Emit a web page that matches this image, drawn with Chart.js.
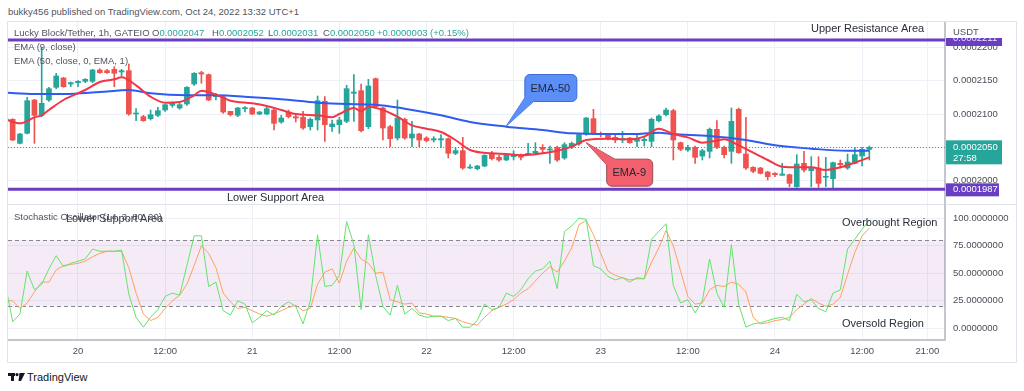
<!DOCTYPE html>
<html>
<head>
<meta charset="utf-8">
<script src="https://cdn.jsdelivr.net/npm/chart.js@4.4.0/dist/chart.umd.min.js"></script>
<style>
  body { margin: 0; background: #fff; width: 1024px; height: 391px; overflow: hidden; position: relative;
         font-family: "Liberation Sans", Arial, sans-serif; }
  canvas { position: absolute; }
  .t { position: absolute; white-space: nowrap; line-height: 12px; }
  .grey { color: #50535e; font-size: 9.5px; }
  .teal { color: #26a69a; font-size: 9.5px; }
  .note { color: #2a2e39; font-size: 11px; }
</style>
</head>
<body>
<div id="frame" style="position:absolute;left:7px;top:21px;width:1008px;height:340px;border:1px solid #e0e3eb;"></div>
<canvas id="main" width="1008" height="182" style="left:8px;top:22px;"></canvas>
<div style="position:absolute;left:8px;top:204px;width:1008px;height:1px;background:#e0e3eb;"></div>
<canvas id="stoch" width="1008" height="158" style="left:8px;top:204px;"></canvas>

<div class="t" style="left:8px;top:6px;font-size:9.5px;color:#50535e;">bukky456 published on TradingView.com, Oct 24, 2022 13:32 UTC+1</div>

<div class="t grey" style="left:14px;top:27px;">Lucky Block/Tether, 1h, GATEIO</div>
<div class="t teal" style="left:152px;top:27px;"><span class="grey">O</span>0.0002047</div>
<div class="t teal" style="left:212px;top:27px;"><span class="grey">H</span>0.0002052</div>
<div class="t teal" style="left:268px;top:27px;"><span class="grey">L</span>0.0002031</div>
<div class="t teal" style="left:323px;top:27px;"><span class="grey">C</span>0.0002050</div>
<div class="t teal" style="left:377px;top:27px;">+0.0000003 (+0.15%)</div>
<div class="t grey" style="left:14px;top:41px;">EMA (9, close)</div>
<div class="t grey" style="left:14px;top:55px;">EMA (50, close, 0, EMA, 1)</div>
<div class="t grey" style="left:953px;top:26px;">USDT</div>

<div class="t note" style="left:811px;top:22px;">Upper Resistance Area</div>
<div class="t note" style="left:227px;top:191px;">Lower Support Area</div>
<div class="t grey" style="left:14px;top:211px;">Stochastic Oscillator (14, 3, 80, 20)</div>
<div class="t note" style="left:66px;top:212px;color:#3a3d46;">Lower Support Area</div>
<div class="t note" style="left:842px;top:216px;">Overbought Region</div>
<div class="t note" style="left:842px;top:317px;">Oversold Region</div>

<svg style="position:absolute;left:8px;top:373px;" width="17" height="8" viewBox="0 0 17 8">
  <rect x="0" y="0" width="7" height="3" fill="#131722"/>
  <rect x="3" y="0" width="3" height="8" fill="#131722"/>
  <circle cx="9" cy="1.6" r="1.6" fill="#131722"/>
  <polygon points="11.5,0 17,0 13,8 10.5,8" fill="#131722"/>
</svg>
<div class="t" style="left:27px;top:371px;font-size:11px;color:#131722;">TradingView</div>

<script>
// prices in units of 0.0000001 USDT, hourly candles; hour 0 = Oct 20 00:00
const FIRST_HOUR = -10;
const opens  = [2089, 2092, 2056, 2071, 2121, 2098, 2121, 2140, 2154, 2145, 2147, 2149, 2149, 2166, 2165, 2167, 2163, 2165, 2100, 2096,
                2093, 2098, 2106, 2113, 2109, 2115, 2145, 2162, 2159, 2126, 2126, 2104, 2098, 2108, 2109, 2100, 2100, 2106, 2088, 2103,
                2096, 2095, 2081, 2091, 2119, 2081, 2084, 2089, 2131, 2135, 2081, 2153, 2109, 2081, 2064, 2092, 2064, 2070, 2064, 2061,
                2061, 2063, 2041, 2045, 2019, 2018, 2022, 2040, 2035, 2031, 2036, 2038, 2039, 2042, 2050, 2046, 2050, 2034, 2050, 2055,
                2070, 2093, 2071, 2069, 2065, 2061, 2064, 2059, 2060, 2059, 2090, 2099, 2105, 2057, 2046, 2050, 2037, 2044, 2077, 2050,
                2044, 2107, 2040, 2020, 2019, 2013, 2011, 2008, 2009, 1991, 2026, 2015, 2019, 2005, 2003, 2026, 2019, 2026, 2037, 2047];
const highs  = [2096, 2093, 2071, 2125, 2122, 2200, 2140, 2161, 2155, 2148, 2150, 2153, 2167, 2168, 2167, 2171, 2167, 2175, 2108, 2098,
                2106, 2110, 2115, 2118, 2116, 2141, 2162, 2164, 2160, 2131, 2128, 2104, 2110, 2111, 2110, 2104, 2110, 2107, 2098, 2106,
                2100, 2104, 2094, 2127, 2126, 2091, 2095, 2143, 2159, 2145, 2152, 2154, 2110, 2083, 2121, 2094, 2089, 2071, 2066, 2066,
                2069, 2064, 2049, 2065, 2024, 2023, 2039, 2044, 2038, 2040, 2045, 2040, 2056, 2057, 2054, 2052, 2052, 2057, 2058, 2070,
                2095, 2107, 2073, 2070, 2069, 2074, 2065, 2069, 2066, 2094, 2099, 2109, 2107, 2058, 2053, 2052, 2047, 2079, 2090, 2052,
                2109, 2109, 2095, 2021, 2020, 2014, 2012, 2026, 2010, 2039, 2044, 2036, 2036, 2035, 2028, 2031, 2040, 2050, 2050, 2052];
const lows   = [2088, 2060, 2055, 2070, 2056, 2096, 2119, 2138, 2140, 2141, 2141, 2147, 2147, 2161, 2161, 2141, 2157, 2098, 2090, 2089,
                2091, 2096, 2104, 2110, 2107, 2113, 2143, 2146, 2120, 2121, 2101, 2097, 2096, 2103, 2099, 2099, 2099, 2076, 2086, 2094,
                2088, 2077, 2076, 2076, 2059, 2074, 2071, 2087, 2089, 2073, 2078, 2109, 2061, 2051, 2061, 2062, 2051, 2051, 2058, 2058,
                2050, 2034, 2039, 2017, 2018, 2016, 2021, 2031, 2029, 2030, 2031, 2031, 2039, 2039, 2041, 2026, 2029, 2032, 2048, 2053,
                2068, 2069, 2066, 2061, 2057, 2057, 2056, 2051, 2052, 2051, 2088, 2097, 2031, 2045, 2044, 2026, 2031, 2034, 2048, 2034,
                2026, 2041, 2017, 2012, 2010, 2001, 2006, 2008, 1991, 1990, 2013, 1991, 1990, 1991, 1989, 2019, 2017, 2025, 2022, 2031];
const closes = [2094, 2061, 2070, 2120, 2098, 2116, 2138, 2157, 2141, 2147, 2149, 2152, 2166, 2162, 2162, 2161, 2165, 2100, 2101, 2090,
                2099, 2105, 2114, 2116, 2114, 2140, 2161, 2160, 2121, 2127, 2103, 2099, 2109, 2109, 2100, 2103, 2108, 2086, 2094, 2096,
                2094, 2079, 2092, 2120, 2084, 2085, 2091, 2138, 2133, 2075, 2142, 2111, 2079, 2063, 2094, 2064, 2070, 2061, 2060, 2063,
                2063, 2041, 2045, 2019, 2020, 2022, 2038, 2033, 2031, 2039, 2039, 2035, 2041, 2044, 2047, 2047, 2031, 2054, 2056, 2069,
                2094, 2071, 2069, 2064, 2061, 2063, 2057, 2062, 2062, 2092, 2097, 2106, 2061, 2047, 2050, 2035, 2045, 2077, 2050, 2039,
                2089, 2042, 2019, 2014, 2011, 2006, 2009, 2010, 1996, 2025, 2016, 2019, 1996, 2006, 2027, 2024, 2028, 2039, 2047, 2050];

const ema9Hours  = [-10, -8, -6, -5, -4, -2, 1, 3, 5, 6, 8, 10, 12, 14, 16, 17, 19, 21, 24, 26, 28, 30, 33, 35, 36, 38, 39, 40, 42,
                    44, 46, 48, 50, 52, 54, 57, 59, 61, 64, 66, 68, 70, 73, 76, 78, 80, 82, 84, 86, 88, 89, 91, 93, 95, 97, 99,
                    101, 103, 105, 107, 109];
const ema9Values = [2092, 2086, 2095, 2098, 2106, 2121, 2136, 2148, 2152, 2155, 2143, 2126, 2117, 2118, 2128, 2135, 2129, 2120, 2116,
                    2112, 2106, 2100, 2098, 2095, 2100, 2109, 2104, 2111, 2106, 2096, 2083, 2078, 2073, 2061, 2046, 2041, 2040, 2038,
                    2041, 2045, 2051, 2061, 2063, 2062, 2066, 2078, 2070, 2065, 2057, 2060, 2062, 2053, 2042, 2031, 2021, 2020, 2020,
                    2016, 2020, 2027, 2035];
const ema50Hours  = [-10, -6, -2, 3, 7, 10, 15, 19, 24, 28, 33, 37, 41, 45, 50, 54, 59, 64, 68, 73, 77, 80, 82, 87, 92, 96, 101, 106, 109];
const ema50Values = [2132, 2130, 2130, 2133, 2136, 2131, 2128, 2128, 2125, 2122, 2117, 2115, 2114, 2108, 2098, 2088, 2081, 2076, 2071,
                     2070, 2070, 2072, 2070, 2067, 2061, 2053, 2048, 2045, 2045];

const stochK = [40, 6, 13, 52, 35, 40, 54, 66, 56, 59, 61, 63, 72, 70, 70, 70, 71, 31, 10, 1,
                10, 17, 29, 32, 30, 57, 84, 84, 38, 42, 16, 12, 25, 22, 5, 10, 16, 12, 20, 24,
                20, 4, 25, 85, 38, 39, 48, 97, 76, 17, 85, 48, 20, 12, 39, 13, 18, 12, 10, 11,
                11, 7, 9, 1, 1, 7, 22, 17, 19, 32, 29, 35, 45, 52, 54, 61, 36, 88, 93, 100,
                99, 57, 54, 47, 44, 46, 42, 46, 45, 81, 88, 95, 39, 23, 26, 14, 25, 63, 32, 19,
                76, 22, 1, 4, 5, 7, 9, 10, 7, 31, 24, 26, 18, 15, 32, 35, 72, 81, 90, 98];
const stochD = [25, 25, 18, 23, 33, 42, 42, 53, 57, 58, 59, 61, 65, 68, 70, 70, 70, 55, 32, 13,
                7, 10, 18, 25, 30, 40, 57, 75, 68, 55, 32, 24, 18, 19, 16, 13, 11, 13, 16, 19,
                21, 16, 18, 40, 51, 54, 41, 61, 73, 63, 59, 50, 51, 26, 24, 22, 23, 14, 13, 11,
                11, 10, 9, 6, 4, 3, 10, 16, 19, 22, 26, 32, 36, 43, 50, 56, 51, 61, 73, 94,
                98, 85, 68, 52, 48, 46, 44, 45, 45, 60, 73, 89, 75, 52, 29, 22, 23, 35, 39, 38,
                42, 40, 33, 10, 4, 5, 7, 8, 10, 17, 22, 27, 23, 20, 22, 28, 49, 69, 84, 91];

const tickHours  = [0, 12, 24, 36, 48, 60, 72, 84, 96, 108, 117];
const tickLabels = ['20', '12:00', '21', '12:00', '22', '12:00', '23', '12:00', '24', '12:00', '21:00'];
const priceTicks = [2000, 2050, 2100, 2150, 2200];
const stochTicks = [0, 25, 50, 75, 100];
const lastPrice = 2050;
const resistance = 2211;
const support = 1987;

const hours = opens.map((_, i) => FIRST_HOUR + i);
const UP = '#26a69a', DOWN = '#ef5350', PURPLE = '#6a3ec2', GRID = '#edf0f6';
const FONT = '"Liberation Sans", Arial, sans-serif';
const candleColors = opens.map((o, i) => closes[i] >= o ? UP : DOWN);
const X_MIN = -9.64, X_MAX = 119.42;

function xScale(showLabels) {
  return {
    type: 'linear', min: X_MIN, max: X_MAX, offset: false,
    afterBuildTicks: s => { s.ticks = tickHours.map(v => ({ value: v })); },
    afterFit: s => {
      s.height = showLabels ? 22 : 0;
      s.paddingLeft = 0; s.paddingRight = 0;
    },
    grid: { color: GRID, drawTicks: false, offset: false },
    border: { display: showLabels, color: '#c3c6cc', width: 2 },
    ticks: {
      display: showLabels, autoSkip: false, maxRotation: 0, padding: 6,
      color: '#4a4d57', font: { family: FONT, size: 9.5 },
      callback: (v, i) => tickLabels[i]
    }
  };
}

function yScale(min, max, ticks, fmt) {
  return {
    position: 'right', min: min, max: max,
    afterBuildTicks: s => { s.ticks = ticks.map(v => ({ value: v })); },
    afterFit: s => {
      s.width = 71;
      s.paddingTop = 0; s.paddingBottom = 0;
    },
    grid: { color: GRID, drawTicks: false },
    border: { color: '#c3c6cc', width: 2 },
    ticks: { padding: 8, color: '#4a4d57', font: { family: FONT, size: 9.5 }, callback: fmt }
  };
}

function callout(ctx, tip, bx, by, w, h, base, fill, stroke, label) {
  const wedge = () => {
    ctx.beginPath();
    ctx.moveTo(tip.x, tip.y);
    ctx.lineTo(base[0], base[1]);
    ctx.lineTo(base[2], base[3]);
    ctx.closePath();
  };
  ctx.lineWidth = 1;
  ctx.strokeStyle = stroke;
  ctx.fillStyle = fill;
  wedge(); ctx.stroke();
  ctx.beginPath(); ctx.roundRect(bx + 0.5, by + 0.5, w, h, 5); ctx.fill(); ctx.stroke();
  wedge(); ctx.fill();
  ctx.fillStyle = '#262a35';
  ctx.font = '11px ' + FONT;
  ctx.textAlign = 'center';
  ctx.textBaseline = 'middle';
  ctx.fillText(label, bx + w / 2, by + h / 2 + 1);
}

const mainDecor = {
  id: 'mainDecor',
  afterDatasetsDraw(chart) {
    const { ctx, chartArea: a, scales: { x, y } } = chart;
    ctx.save();
    const py = Math.round(y.getPixelForValue(lastPrice)) + 0.5;
    ctx.strokeStyle = UP; ctx.lineWidth = 1; ctx.setLineDash([1, 2]);
    ctx.beginPath(); ctx.moveTo(a.left, py); ctx.lineTo(a.right, py); ctx.stroke();
    ctx.setLineDash([]);
    ctx.strokeStyle = PURPLE; ctx.lineWidth = 3;
    [resistance, support].forEach(v => {
      const ly = y.getPixelForValue(v);
      ctx.beginPath(); ctx.moveTo(a.left, ly); ctx.lineTo(a.right, ly); ctx.stroke();
    });
    // author's callouts, anchored to the lines they name
    const t50 = { x: x.getPixelForValue(59), y: y.getPixelForValue(2082) };
    const b50 = { x: t50.x + 18, y: t50.y - 52 };
    callout(ctx, t50, b50.x, b50.y, 52, 27, [b50.x + 3, b50.y + 20, b50.x + 12, b50.y + 25],
            '#5b8ef7', '#3e6bd6', 'EMA-50');
    const t9 = { x: x.getPixelForValue(70), y: y.getPixelForValue(2057) };
    const b9 = { x: t9.x + 20, y: t9.y + 16 };
    callout(ctx, t9, b9.x, b9.y, 46, 27, [b9.x + 3, b9.y + 9, b9.x + 13, b9.y + 3],
            '#f2606d', '#9c4a53', 'EMA-9');
    ctx.restore();
  },
  afterDraw(chart) {
    const { ctx, chartArea: a, scales: { y } } = chart;
    ctx.save();
    ctx.font = '9.5px ' + FONT;
    ctx.textAlign = 'left';
    ctx.textBaseline = 'middle';
    const fmt = v => (v / 1e7).toFixed(7);
    // last price tag
    const py = y.getPixelForValue(lastPrice);
    ctx.fillStyle = UP;
    ctx.fillRect(a.right + 1, py - 7, 56, 24);
    ctx.fillStyle = '#fff';
    ctx.fillText(fmt(lastPrice), a.right + 8, py + 0.5);
    ctx.fillText('27:58', a.right + 8, py + 11.5);
    // support tag
    const sy = y.getPixelForValue(support);
    ctx.fillStyle = PURPLE;
    ctx.fillRect(a.right + 1, sy - 6, 53, 13);
    ctx.fillStyle = '#fff';
    ctx.fillText(fmt(support), a.right + 8, sy + 0.5);
    // resistance tag, mostly hidden at the top
    const ry = y.getPixelForValue(resistance);
    ctx.fillStyle = PURPLE;
    ctx.fillRect(a.right + 1, ry - 2, 56, 8);
    ctx.beginPath(); ctx.rect(a.right + 1, ry - 2, 56, 8); ctx.clip();
    ctx.fillStyle = '#e8e0ff';
    ctx.fillText(fmt(resistance), a.right + 8, ry - 2);
    ctx.restore();
  }
};

new Chart(document.getElementById('main'), {
  type: 'bar',
  data: {
    datasets: [
      {
        type: 'line', label: 'EMA 9', order: 0, clip: 0,
        data: ema9Hours.map((h, i) => ({ x: h, y: ema9Values[i] })),
        borderColor: '#f23645', borderWidth: 2, pointRadius: 0, cubicInterpolationMode: 'monotone'
      },
      {
        type: 'line', label: 'EMA 50', order: 1, clip: 0,
        data: ema50Hours.map((h, i) => ({ x: h, y: ema50Values[i] })),
        borderColor: '#2f5cf0', borderWidth: 2, pointRadius: 0, cubicInterpolationMode: 'monotone'
      },
      {
        label: 'body', order: 2, grouped: false, clip: 0,
        data: hours.map((h, i) => ({ x: h, y: [opens[i], closes[i]] })),
        backgroundColor: candleColors, barThickness: 5, minBarLength: 1, borderWidth: 0
      },
      {
        label: 'wick', order: 3, grouped: false, clip: 0,
        data: hours.map((h, i) => ({ x: h, y: [lows[i], highs[i]] })),
        backgroundColor: candleColors, barThickness: 1, borderWidth: 0
      }
    ]
  },
  options: {
    responsive: false,
    animation: false,
    events: [],
    layout: { padding: 0 },
    plugins: { legend: { display: false }, tooltip: { enabled: false } },
    scales: {
      x: xScale(false),
      y: yScale(1965, 2238, priceTicks, v => (v / 1e7).toFixed(7))
    }
  },
  plugins: [mainDecor]
});

const stochDecor = {
  id: 'stochDecor',
  beforeDatasetsDraw(chart) {
    const { ctx, chartArea: a, scales: { y } } = chart;
    const top = y.getPixelForValue(80), bottom = y.getPixelForValue(20);
    ctx.save();
    ctx.fillStyle = 'rgba(150, 60, 170, 0.1)';
    ctx.fillRect(a.left, top, a.right - a.left, bottom - top);
    ctx.strokeStyle = '#85888f'; ctx.lineWidth = 1; ctx.setLineDash([4, 3]);
    [top, bottom].forEach(ly => {
      ctx.beginPath(); ctx.moveTo(a.left, Math.round(ly) + 0.5); ctx.lineTo(a.right, Math.round(ly) + 0.5); ctx.stroke();
    });
    ctx.restore();
  }
};

new Chart(document.getElementById('stoch'), {
  type: 'line',
  data: {
    datasets: [
      {
        label: '%K', order: 0, clip: 0,
        data: hours.map((h, i) => ({ x: h, y: stochK[i] })),
        borderColor: '#63e36b', borderWidth: 1, pointRadius: 0
      },
      {
        label: '%D', order: 1, clip: 0,
        data: hours.map((h, i) => ({ x: h, y: stochD[i] })),
        borderColor: '#ffa05e', borderWidth: 1, pointRadius: 0
      }
    ]
  },
  options: {
    responsive: false,
    animation: false,
    events: [],
    layout: { padding: { top: 1 } },
    plugins: { legend: { display: false }, tooltip: { enabled: false } },
    scales: {
      x: xScale(true),
      y: yScale(-10.6, 112, stochTicks, v => v.toFixed(7))
    }
  },
  plugins: [stochDecor]
});
</script>
</body>
</html>
